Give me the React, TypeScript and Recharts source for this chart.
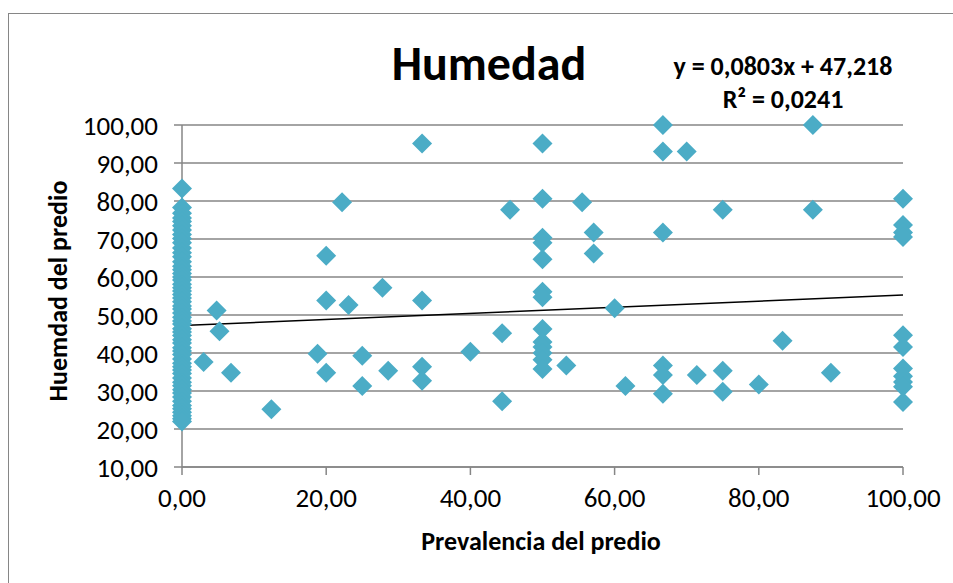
import { ScatterChart, Scatter, XAxis, YAxis, CartesianGrid, ReferenceLine } from "recharts";

// Humedad de predios con prevalencia 0 (columna en x = 0)
const HUMEDAD_PREV_CERO = [
  83.3, 78.3, 76.8, 75.5, 74.6, 73.5, 72.4, 71.2, 70.1, 69.0, 67.6, 66.4, 65.3, 64.0, 62.8,
  61.9, 60.9, 60.0, 59.2, 58.1, 57.2, 56.3, 55.4, 54.5, 53.5, 52.4, 51.6, 50.5, 49.4, 48.4,
  47.6, 46.4, 45.5, 44.6, 43.5, 42.6, 41.4, 40.5, 39.6, 38.4, 37.3, 36.4, 35.5, 34.6, 33.4,
  32.3, 31.4, 30.3, 29.5, 28.4, 27.3, 26.2, 25.3, 24.4, 23.5, 22.7, 22.0,
];

// Resto de predios
const PREVALENCIA = [
  3.0, 4.8, 5.2, 6.8, 12.4, 18.8, 20, 20, 20, 22.2, 23.1, 25, 25, 27.8, 28.6,
  33.3, 33.3, 33.3, 33.3, 40, 44.4, 44.4, 45.5, 50, 50, 50, 50, 50, 50, 50,
  50, 50, 50, 50, 50, 50, 53.3, 55.5, 57.1, 57.1, 60, 61.5, 66.7, 66.7, 66.7,
  66.7, 66.7, 66.7, 70, 71.4, 75, 75, 75, 80, 83.3, 87.5, 87.5, 90, 100, 100,
  100, 100, 100, 100, 100, 100, 100, 100, 100,
];
const HUMEDAD = [
  37.6, 51.2, 45.7, 34.8, 25.2, 39.8, 65.6, 53.8, 34.8, 79.7, 52.6, 39.3, 31.3, 57.2, 35.3,
  95.1, 53.8, 36.4, 32.7, 40.3, 45.2, 27.3, 77.7, 95.1, 80.6, 70.3, 69.0, 64.7, 56.1, 54.7,
  46.3, 42.9, 41.6, 40.0, 38.2, 35.8, 36.7, 79.7, 71.7, 66.2, 51.8, 31.3, 100, 93, 71.7,
  36.7, 34.2, 29.3, 93, 34.2, 77.7, 35.3, 29.8, 31.7, 43.2, 100, 77.7, 34.8, 80.6, 73.7,
  71.7, 70.5, 44.7, 41.6, 35.9, 33.9, 32.4, 31.1, 27.1,
];

const X_TICKS = [0, 20, 40, 60, 80, 100];
const Y_TICKS = [10, 20, 30, 40, 50, 60, 70, 80, 90, 100];

const TREND_SLOPE = 0.0803;
const TREND_INTERCEPT = 47.218;

const points = [
  ...HUMEDAD_PREV_CERO.map((y) => ({ x: 0, y })),
  ...PREVALENCIA.map((x, i) => ({ x, y: HUMEDAD[i] })),
];

const FONT = "Carlito, 'Open Sans', sans-serif";
const GRAY = "#868686";
const BLUE = "#4BACC6";

const fmt = (v: number) => v.toFixed(2).replace(".", ",");

function Diamond(props: any) {
  const { cx, cy } = props;
  const r = 10;
  return (
    <polygon
      points={`${cx},${cy - r} ${cx + r},${cy} ${cx},${cy + r} ${cx - r},${cy}`}
      fill={BLUE}
    />
  );
}

export default function App() {
  const tick = { fontSize: 27, fill: "#000", fontFamily: FONT };
  return (
    <div style={{ position: "absolute", left: 0, top: 0, width: 953, height: 583, overflow: "hidden", background: "#fff" }}>
      <div style={{ position: "absolute", left: 8, top: 13, width: 1100, height: 800, border: `1.5px solid ${GRAY}` }} />
      <ScatterChart width={953} height={583} margin={{ top: 125, right: 50, bottom: 56, left: 82 }}>
        <CartesianGrid horizontal vertical={false} stroke={GRAY} strokeWidth={1.5} />
        <XAxis
          type="number"
          dataKey="x"
          domain={[0, 100]}
          ticks={X_TICKS}
          tickFormatter={fmt}
          height={60}
          tick={tick}
          tickSize={8}
          tickMargin={13}
          stroke={GRAY}
          strokeWidth={1.5}
        />
        <YAxis
          type="number"
          dataKey="y"
          domain={[10, 100]}
          ticks={Y_TICKS}
          tickFormatter={fmt}
          width={100}
          tick={tick}
          tickSize={8}
          tickMargin={16}
          stroke={GRAY}
          strokeWidth={1.5}
        />
        <Scatter data={points} shape={Diamond} isAnimationActive={false} />
        <ReferenceLine
          segment={[
            { x: 0, y: TREND_INTERCEPT },
            { x: 100, y: TREND_INTERCEPT + TREND_SLOPE * 100 },
          ]}
          stroke="#000"
          strokeWidth={1.5}
        />
      </ScatterChart>
      <div style={{ position: "absolute", left: 489, top: 64, transform: "translate(-50%,-50%)", fontFamily: FONT, fontWeight: 700, fontSize: 48, lineHeight: 1, whiteSpace: "nowrap" }}>
        Humedad
      </div>
      <div style={{ position: "absolute", left: 783, top: 83, transform: "translate(-50%,-50%)", fontFamily: FONT, fontWeight: 700, fontSize: 26, lineHeight: "33px", textAlign: "center", whiteSpace: "nowrap" }}>
        y = 0,0803x + 47,218
        <br />
        R² = 0,0241
      </div>
      <div style={{ position: "absolute", left: 541, top: 541, transform: "translate(-50%,-50%)", fontFamily: FONT, fontWeight: 700, fontSize: 26, lineHeight: 1, whiteSpace: "nowrap" }}>
        Prevalencia del predio
      </div>
      <div style={{ position: "absolute", left: 58, top: 291, transform: "translate(-50%,-50%) rotate(-90deg)", fontFamily: FONT, fontWeight: 700, fontSize: 26, lineHeight: 1, whiteSpace: "nowrap" }}>
        Huemdad del predio
      </div>
    </div>
  );
}
